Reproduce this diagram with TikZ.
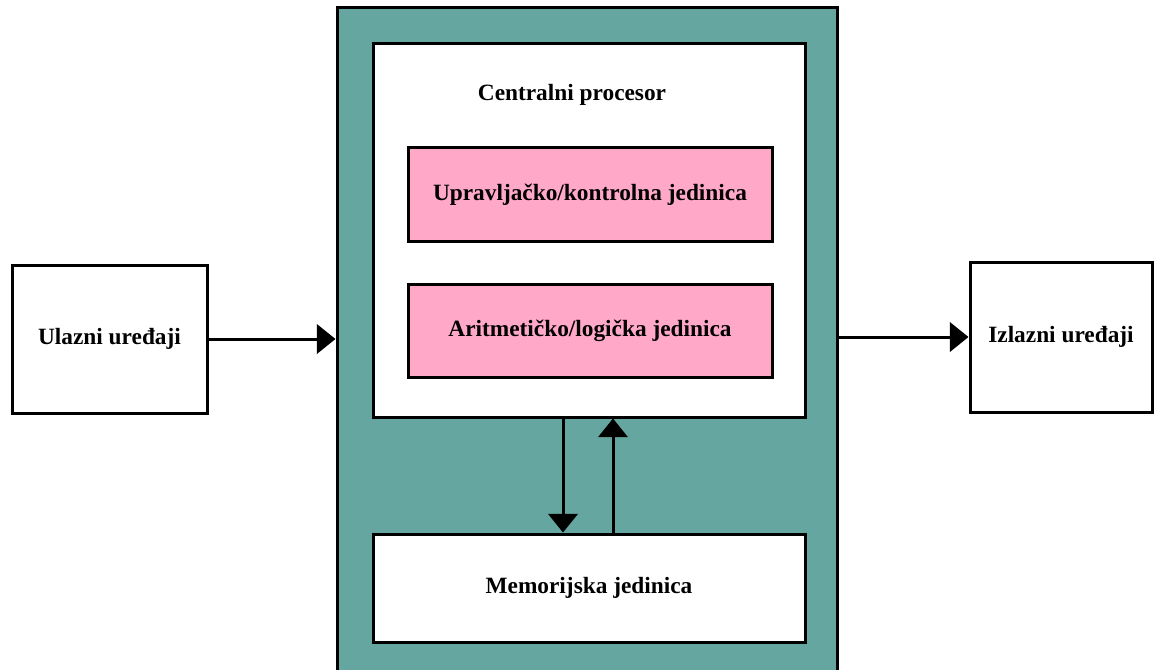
\documentclass[tikz,border=0pt]{standalone}
\usepackage{fontspec}
\setmainfont{Liberation Serif}
\usetikzlibrary{arrows.meta,positioning}
\definecolor{unitteal}{HTML}{66A6A0}
\definecolor{unitpink}{HTML}{FFA8C8}

\begin{document}
\begin{tikzpicture}[
  x=0.75pt, y=-0.75pt,
  box/.style={draw, line width=2.25pt, fill=white, align=center, inner sep=0pt,
              font=\fontsize{17.5}{20}\selectfont\bfseries},
  part/.style={box, fill=unitpink, minimum width=273pt, minimum height=70pt},
  arr/.style={-{Triangle[length=14pt, width=22pt]}, line width=2.25pt}
]
\clip (0,0) rectangle (1155,669);
\fill[white] (0,0) rectangle (1155,669);

\node[box, fill=unitteal, minimum width=375pt, minimum height=504.75pt] (unit) at (587,343.5) {};
\node[box, minimum width=324pt, minimum height=280.5pt] (cpu) at (589,230) {};
\node[font=\fontsize{17.5}{20}\selectfont\bfseries] (title) at (572,95) {Centralni procesor};
\node[part] (cu) at (590,194.5) {Upravljačko/kontrolna jedinica};
\node[part, below=30pt of cu] (alu) {Aritmetičko/logička jedinica};
\node[box, minimum width=324pt, minimum height=81pt] (mem) at (589,588) {Memorijska jedinica};

\node[box, minimum width=146.25pt, minimum height=111pt] (in) at (109.5,339) {Ulazni uređaji};
\node[box, minimum width=136.5pt, minimum height=112.5pt] (out) at (1061,337) {Izlazni uređaji};

\draw[arr] (in.east) -- (in.east -| unit.west);
\draw[arr] (unit.east |- out.west) -- (out.west);
\draw[arr] ([xshift=-19.5pt]cpu.south) -- ([xshift=-19.5pt]cpu.south |- mem.north);
\draw[arr] ([xshift=18pt]cpu.south |- mem.north) -- ([xshift=18pt]cpu.south);
\end{tikzpicture}
\end{document}
